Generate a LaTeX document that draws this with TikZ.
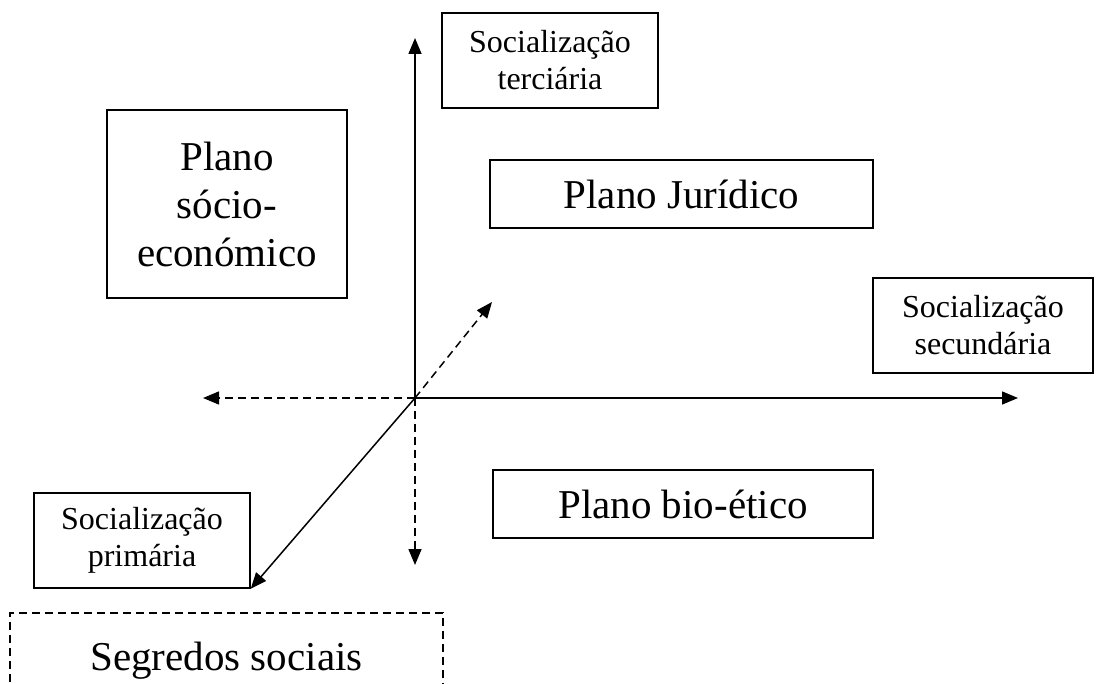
\documentclass[tikz,border=0pt]{standalone}
\usepackage{fontspec}
\setmainfont{Liberation Serif}
\usetikzlibrary{arrows.meta}

\tikzset{
  box/.style={draw, line width=1.4pt, inner sep=0pt, align=center},
  bigbox/.style={box, font=\fontsize{41}{48}\selectfont},
  smallbox/.style={box, font=\fontsize{32}{37}\selectfont},
  axis/.style={line width=1.5pt, -{Triangle[length=16pt,width=13pt]}},
  dashaxis/.style={axis, dash pattern=on 8pt off 5pt}
}

\begin{document}
\begin{tikzpicture}[x=1pt, y=-1pt]
  \useasboundingbox (0,0) rectangle (1102,684);

  % boxes
  \node[smallbox, minimum width=216pt, minimum height=95pt] (terc) at (550,60.5) {\raisebox{-4pt}{Socialização}\\\raisebox{-4pt}{terciária}};
  \node[bigbox, minimum width=240pt, minimum height=188pt] (socio) at (227,204) {Plano\\sócio-\\económico};
  \node[bigbox, minimum width=383pt, minimum height=68pt] (jur) at (681.5,194) {Plano Jurídico};
  \node[smallbox, minimum width=220pt, minimum height=95pt] (sec) at (983,325.5) {\raisebox{-4pt}{Socialização}\\\raisebox{-4pt}{secundária}};
  \node[bigbox, minimum width=380pt, minimum height=68pt] (bio) at (683,504) {Plano bio-ético};
  \node[smallbox, minimum width=216pt, minimum height=95pt] (prim) at (142,540.5) {\raisebox{-4pt}{Socialização}\\\raisebox{-4pt}{primária}};
  \node[bigbox, dash pattern=on 8pt off 5pt, minimum width=433pt, minimum height=100pt,
        text depth=0pt] (segr) at (226.5,663) {\raisebox{13pt}{Segredos sociais}};

  % axes
  \coordinate (O) at (415,398);
  \coordinate (up) at (415,38);
  \coordinate (right) at (1018,398);
  \coordinate (left) at (203,398);
  \coordinate (down) at (415,565);
  \coordinate (diag) at (492,302);

  \draw[axis] (O) -- (up);
  \draw[axis] (O) -- (right);
  \draw[dashaxis] (O) -- (left);
  \draw[dashaxis] (O) -- (down);
  \draw[dashaxis] (O) -- (diag);
  \draw[axis] (O) -- (prim.south east);
\end{tikzpicture}
\end{document}
